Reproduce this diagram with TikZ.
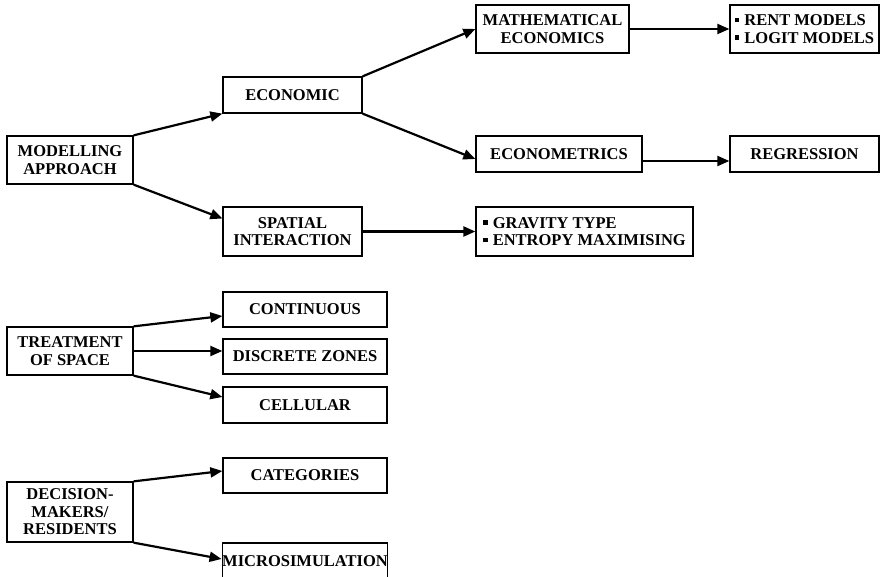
\documentclass[tikz,border=0pt]{standalone}
\usepackage{fontspec}
\setmainfont{Liberation Serif}
\usetikzlibrary{arrows.meta,calc}
\newcommand{\sqbul}{\rule[0.2em]{0.28em}{0.28em}\hspace{0.3em}}
\tikzset{
  box/.style={rectangle, draw=black, line width=1.3pt, fill=white,
    font=\bfseries\fontsize{16.5}{17.5}\selectfont, align=center, inner sep=0pt},
  root/.style={box, minimum width=126pt, minimum height=48pt},
  mid/.style={box, minimum width=139pt},
  opt/.style={box, minimum width=164pt, minimum height=35pt},
  leaf/.style={box, minimum width=149pt},
  arr/.style={-{Triangle[length=12pt,width=10pt]}, line width=2.2pt, black},
}

\begin{document}
\begin{tikzpicture}[x=1pt, y=-1pt]
\useasboundingbox (0,0) rectangle (883,577);

% ---------------- MODELLING APPROACH ----------------
\node[root] (n-model) at (70,160) {MODELLING\\APPROACH};
\node[mid, minimum height=36pt] (n-econ) at (292.5,95) {ECONOMIC};
\node[mid, minimum height=49pt] (n-spatial) at (292.5,231.5) {SPATIAL\\INTERACTION};
\node[box, minimum width=153pt, minimum height=48pt] (n-math) at (552.5,29)
  {MATHEMATICAL\\ECONOMICS};
\node[box, minimum width=166pt, minimum height=36pt] (n-emetrics) at (559,154)
  {ECONOMETRICS};
\node[box, minimum width=217pt, minimum height=49pt, align=left] (n-gravity) at (584.5,231.5)
  {\sqbul GRAVITY TYPE\\\sqbul ENTROPY MAXIMISING};
\node[leaf, minimum height=48pt, align=left] (n-rent) at (804.5,29)
  {\sqbul RENT MODELS\\\sqbul LOGIT MODELS};
\node[leaf, minimum height=36pt] (n-regr) at (804.5,154) {REGRESSION};

% ---------------- TREATMENT OF SPACE ----------------
\node[root] (n-space) at (70,351) {TREATMENT\\OF SPACE};
\node[opt] (n-cont) at (305,309.5) {CONTINUOUS};
\node[opt] (n-disc) at (305,356.5) {DISCRETE ZONES};
\node[opt, minimum height=36pt] (n-cell) at (305,405) {CELLULAR};

% ---------------- DECISION-MAKERS ----------------
\node[root, minimum height=60pt] (n-dm) at (70,512) {DECISION-\\MAKERS/\\RESIDENTS};
\node[opt] (n-cat) at (305,475.5) {CATEGORIES};
\node[opt, minimum height=36pt] (n-micro) at (305,561) {MICROSIMULATION};

% ================= ARROWS =================
\draw[arr] (n-model.north east) -- (n-econ.south west);
\draw[arr] (n-model.south east) -- ($(n-spatial.west)+(0,-13)$);
\draw[arr] (n-econ.north east)  -- (n-math.west);
\draw[arr] (n-econ.south east)  -- ($(n-emetrics.west)+(0,5)$);
\draw[arr] (n-math.east)        -- (n-rent.west);
\draw[arr] ($(n-emetrics.east)+(0,7)$) -- ($(n-regr.west)+(0,7)$);
\draw[arr] (n-spatial.east)     -- (n-gravity.west);

\draw[arr] (n-space.north east) -- ($(n-cont.west)+(0,6.5)$);
\draw[arr] (n-space.east)       -- (n-space.east -| n-disc.west);
\draw[arr] (n-space.south east) -- ($(n-cell.west)+(0,-8)$);

\draw[arr] (n-dm.north east)    -- ($(n-cat.west)+(0,-4.5)$);
\draw[arr] (n-dm.south east)    -- ($(n-micro.west)+(0,-2)$);

\end{tikzpicture}
\end{document}
